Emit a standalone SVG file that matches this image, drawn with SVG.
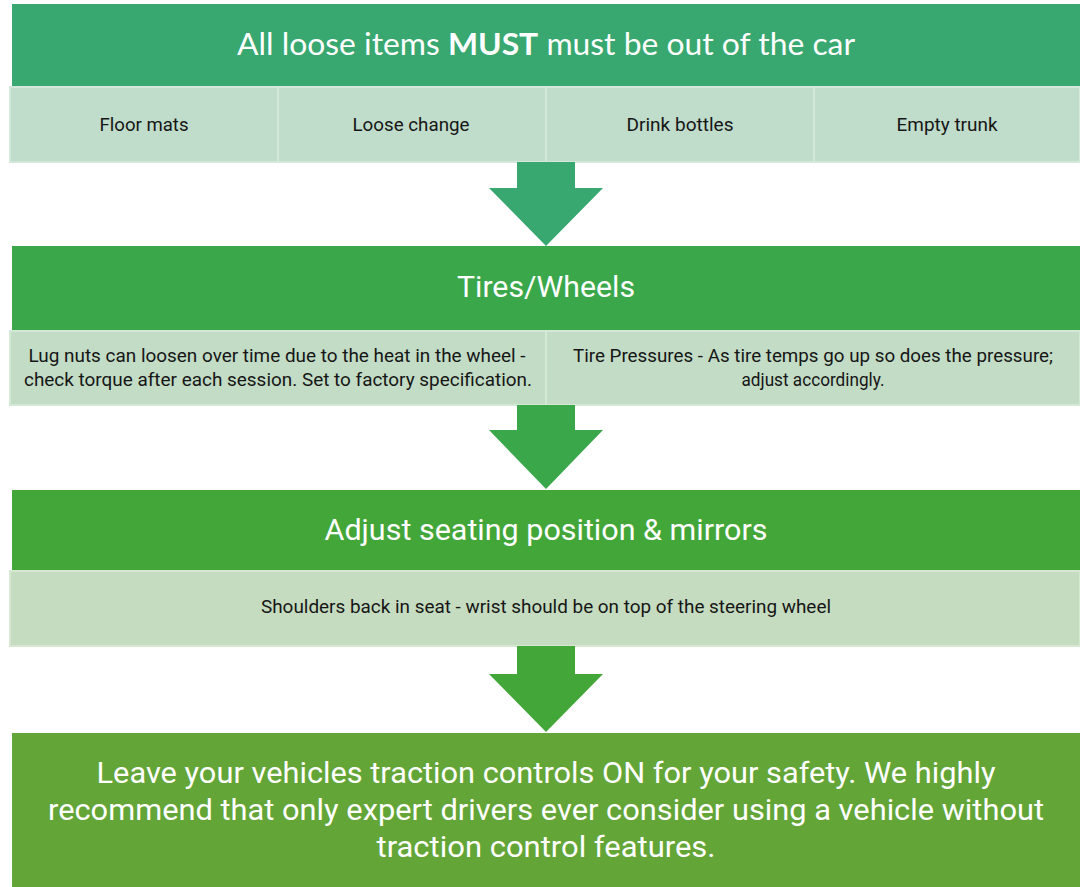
<svg xmlns="http://www.w3.org/2000/svg" width="1080" height="887" viewBox="0 0 1080 887">
  <style>
    .head { font-family: "Roboto", "Noto Sans", sans-serif; fill: #ffffff; text-anchor: middle; }
    .title { font-family: "Lato", "Open Sans", sans-serif; fill: #ffffff; text-anchor: middle; font-size: 31px; }
    .item { font-family: "Roboto", "Noto Sans", sans-serif; fill: #161616; text-anchor: middle; font-size: 18px; }
    .sub1 { fill: #c0dccb; stroke: #d3e8da; stroke-width: 2; }
    .sub2 { fill: #c2dcc5; stroke: #d4e8d6; stroke-width: 2; }
    .sub3 { fill: #c5dcc0; stroke: #d6e8d2; stroke-width: 2; }
  </style>
  <rect width="1080" height="887" fill="#ffffff"/>

  <!-- step 1: loose items -->
  <g id="step-loose-items">
    <rect x="12" y="4" width="1068" height="82" fill="#38a770"/>
    <text class="title" x="546" y="55" textLength="618" lengthAdjust="spacingAndGlyphs">All loose items <tspan font-weight="bold">MUST</tspan> must be out of the car</text>
  </g>
  <g id="item-floor-mats">
    <rect class="sub1" x="10" y="87" width="268" height="75"/>
    <text class="item" x="144" y="131" textLength="89" lengthAdjust="spacingAndGlyphs">Floor mats</text>
  </g>
  <g id="item-loose-change">
    <rect class="sub1" x="278" y="87" width="268" height="75"/>
    <text class="item" x="411" y="131" textLength="117" lengthAdjust="spacingAndGlyphs">Loose change</text>
  </g>
  <g id="item-drink-bottles">
    <rect class="sub1" x="546" y="87" width="268" height="75"/>
    <text class="item" x="680" y="131" textLength="107" lengthAdjust="spacingAndGlyphs">Drink bottles</text>
  </g>
  <g id="item-empty-trunk">
    <rect class="sub1" x="814" y="87" width="266" height="75"/>
    <text class="item" x="947" y="131" textLength="101" lengthAdjust="spacingAndGlyphs">Empty trunk</text>
  </g>

  <!-- step 2: tires and wheels -->
  <g id="step-tires">
    <rect x="12" y="246" width="1068" height="84" fill="#3aa74b"/>
    <text class="head" x="546" y="297" font-size="30" textLength="178" lengthAdjust="spacingAndGlyphs">Tires/Wheels</text>
  </g>
  <g id="item-lug-nuts">
    <rect class="sub2" x="10" y="331" width="536" height="74"/>
    <text class="item" x="277" y="362" textLength="497" lengthAdjust="spacingAndGlyphs">Lug nuts can loosen over time due to the heat in the wheel -</text>
    <text class="item" x="278" y="386" textLength="508" lengthAdjust="spacingAndGlyphs">check torque after each session. Set to factory specification.</text>
  </g>
  <g id="item-tire-pressures">
    <rect class="sub2" x="546" y="331" width="534" height="74"/>
    <text class="item" x="813" y="362" textLength="480" lengthAdjust="spacingAndGlyphs">Tire Pressures - As tire temps go up so does the pressure;</text>
    <text class="item" x="813" y="386" textLength="143" lengthAdjust="spacingAndGlyphs">adjust accordingly.</text>
  </g>

  <!-- step 3: seating -->
  <g id="step-seating">
    <rect x="12" y="490" width="1068" height="80" fill="#43a638"/>
    <text class="head" x="546" y="540" font-size="30" textLength="443" lengthAdjust="spacingAndGlyphs">Adjust seating position &amp; mirrors</text>
  </g>
  <g id="item-shoulders">
    <rect class="sub3" x="10" y="571" width="1070" height="75"/>
    <text class="item" x="546" y="613" textLength="570" lengthAdjust="spacingAndGlyphs">Shoulders back in seat - wrist should be on top of the steering wheel</text>
  </g>

  <!-- step 4: traction control -->
  <g id="step-traction">
    <rect x="12" y="733" width="1068" height="154" fill="#63a537"/>
    <text class="head" x="546" y="783" font-size="30" textLength="899" lengthAdjust="spacingAndGlyphs">Leave your vehicles traction controls ON for your safety. We highly</text>
    <text class="head" x="546" y="820" font-size="30" textLength="996" lengthAdjust="spacingAndGlyphs">recommend that only expert drivers ever consider using a vehicle without</text>
    <text class="head" x="546" y="857" font-size="30" textLength="339" lengthAdjust="spacingAndGlyphs">traction control features.</text>
  </g>

  <!-- block arrows between steps -->
  <g id="connectors">
    <polygon points="517,162 575,162 575,188 603,188 546,246 489,188 517,188" fill="#38a770"/>
    <polygon points="517,405 575,405 575,430 603,430 546,489 489,430 517,430" fill="#3aa74b"/>
    <polygon points="517,646 575,646 575,674 603,674 546,732 489,674 517,674" fill="#43a638"/>
  </g>
</svg>
